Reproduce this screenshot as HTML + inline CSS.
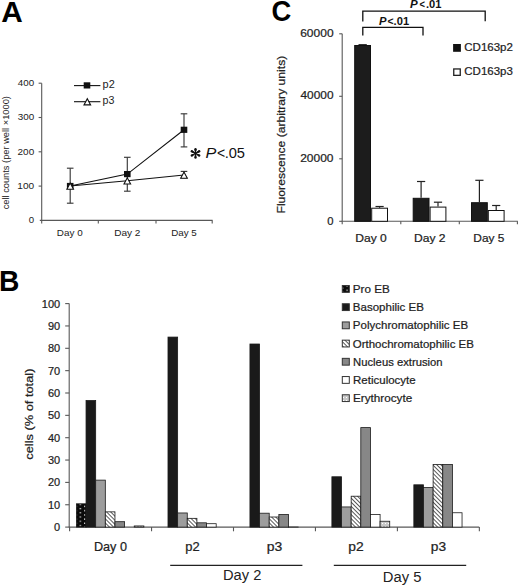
<!DOCTYPE html>
<html><head><meta charset="utf-8"><style>
html,body{margin:0;padding:0;background:#fff;width:520px;height:588px;overflow:hidden}
svg{display:block}
text{font-family:"Liberation Sans",sans-serif;font-kerning:none}
text.t{stroke:#222;stroke-width:0.22px}
</style></head><body>
<svg width="520" height="588" viewBox="0 0 520 588">
<rect width="520" height="588" fill="#fff"/>
<text x="1.26" y="22.00" font-size="29" font-weight="bold" textLength="21.53" lengthAdjust="spacingAndGlyphs" fill="#000">A</text>
<line x1="41.70" y1="83.20" x2="41.70" y2="220.40" stroke="#585858" stroke-width="1.1"/>
<line x1="38.60" y1="186.10" x2="41.70" y2="186.10" stroke="#585858" stroke-width="1.1"/>
<line x1="38.60" y1="151.80" x2="41.70" y2="151.80" stroke="#585858" stroke-width="1.1"/>
<line x1="38.60" y1="117.50" x2="41.70" y2="117.50" stroke="#585858" stroke-width="1.1"/>
<line x1="38.60" y1="83.20" x2="41.70" y2="83.20" stroke="#585858" stroke-width="1.1"/>
<line x1="39.80" y1="220.40" x2="212.60" y2="220.40" stroke="#585858" stroke-width="1.1"/>
<line x1="41.70" y1="220.40" x2="41.70" y2="223.60" stroke="#585858" stroke-width="1.1"/>
<line x1="98.30" y1="220.40" x2="98.30" y2="223.60" stroke="#585858" stroke-width="1.1"/>
<line x1="156.00" y1="220.40" x2="156.00" y2="223.60" stroke="#585858" stroke-width="1.1"/>
<line x1="212.20" y1="220.40" x2="212.20" y2="223.60" stroke="#585858" stroke-width="1.1"/>
<text x="17.88" y="86.10" font-size="9.3" textLength="16.31" lengthAdjust="spacingAndGlyphs" fill="#222">400</text>
<text x="17.72" y="120.40" font-size="9.3" textLength="16.46" lengthAdjust="spacingAndGlyphs" fill="#222">300</text>
<text x="17.60" y="154.70" font-size="9.3" textLength="16.59" lengthAdjust="spacingAndGlyphs" fill="#222">200</text>
<text x="17.33" y="189.00" font-size="9.3" textLength="16.86" lengthAdjust="spacingAndGlyphs" fill="#222">100</text>
<text x="28.82" y="223.30" font-size="9.3" textLength="5.35" lengthAdjust="spacingAndGlyphs" fill="#222">0</text>
<text x="56.89" y="236.30" font-size="9.2" textLength="25.80" lengthAdjust="spacingAndGlyphs" fill="#222">Day 0</text>
<text x="114.17" y="236.30" font-size="9.2" textLength="26.33" lengthAdjust="spacingAndGlyphs" fill="#222">Day 2</text>
<text x="171.20" y="236.30" font-size="9.2" textLength="25.62" lengthAdjust="spacingAndGlyphs" fill="#222">Day 5</text>
<text transform="translate(8.50,209.00) rotate(-90)" x="-0.39" y="0" font-size="9.0" textLength="113.27" lengthAdjust="spacingAndGlyphs" fill="#222">cell counts (per well ×1000)</text>
<line x1="70.20" y1="168.20" x2="70.20" y2="203.20" stroke="#3a3a3a" stroke-width="1.15"/>
<line x1="66.90" y1="168.20" x2="73.50" y2="168.20" stroke="#3a3a3a" stroke-width="1.15"/>
<line x1="66.90" y1="203.20" x2="73.50" y2="203.20" stroke="#3a3a3a" stroke-width="1.15"/>
<line x1="127.30" y1="157.30" x2="127.30" y2="191.20" stroke="#3a3a3a" stroke-width="1.15"/>
<line x1="124.00" y1="157.30" x2="130.60" y2="157.30" stroke="#3a3a3a" stroke-width="1.15"/>
<line x1="124.00" y1="191.20" x2="130.60" y2="191.20" stroke="#3a3a3a" stroke-width="1.15"/>
<line x1="184.00" y1="113.80" x2="184.00" y2="146.90" stroke="#3a3a3a" stroke-width="1.15"/>
<line x1="180.70" y1="113.80" x2="187.30" y2="113.80" stroke="#3a3a3a" stroke-width="1.15"/>
<line x1="180.70" y1="146.90" x2="187.30" y2="146.90" stroke="#3a3a3a" stroke-width="1.15"/>
<line x1="184.00" y1="171.40" x2="184.00" y2="177.90" stroke="#3a3a3a" stroke-width="1.15"/>
<line x1="180.70" y1="171.40" x2="187.30" y2="171.40" stroke="#3a3a3a" stroke-width="1.15"/>
<line x1="180.70" y1="177.90" x2="187.30" y2="177.90" stroke="#3a3a3a" stroke-width="1.15"/>
<polyline points="70.2,186.0 127.3,174.1 184.0,129.8" fill="none" stroke="#111" stroke-width="1.1"/>
<polyline points="70.2,186.0 127.3,180.7 184.0,175.0" fill="none" stroke="#111" stroke-width="1.1"/>
<rect x="66.90" y="182.90" width="6.60" height="6.20" fill="#111"/>
<rect x="124.00" y="171.00" width="6.60" height="6.20" fill="#111"/>
<rect x="180.70" y="126.70" width="6.60" height="6.20" fill="#111"/>
<polygon points="66.90,189.30 73.50,189.30 70.20,183.10" fill="#fff" stroke="#111" stroke-width="1.1"/>
<polygon points="124.00,184.00 130.60,184.00 127.30,177.80" fill="#fff" stroke="#111" stroke-width="1.1"/>
<polygon points="180.70,178.30 187.30,178.30 184.00,172.10" fill="#fff" stroke="#111" stroke-width="1.1"/>
<line x1="74.00" y1="85.60" x2="100.40" y2="85.60" stroke="#111" stroke-width="1.1"/>
<rect x="83.70" y="82.30" width="6.60" height="6.20" fill="#111"/>
<text x="102.60" y="87.90" font-size="10" textLength="12.15" lengthAdjust="spacingAndGlyphs" fill="#222">p2</text>
<line x1="74.00" y1="101.70" x2="100.40" y2="101.70" stroke="#111" stroke-width="1.1"/>
<polygon points="84.00,104.90 90.60,104.90 87.30,98.70" fill="#fff" stroke="#111" stroke-width="1.1"/>
<text x="102.61" y="103.80" font-size="10" textLength="11.86" lengthAdjust="spacingAndGlyphs" fill="#222">p3</text>
<line x1="195.50" y1="153.40" x2="195.50" y2="149.20" stroke="#111" stroke-width="1.4"/>
<circle cx="195.50" cy="149.20" r="1.2" fill="#111"/>
<circle cx="195.50" cy="150.50" r="0.95" fill="#111"/>
<line x1="195.50" y1="153.40" x2="191.86" y2="151.30" stroke="#111" stroke-width="1.4"/>
<circle cx="191.86" cy="151.30" r="1.2" fill="#111"/>
<circle cx="192.99" cy="151.95" r="0.95" fill="#111"/>
<line x1="195.50" y1="153.40" x2="191.86" y2="155.50" stroke="#111" stroke-width="1.4"/>
<circle cx="191.86" cy="155.50" r="1.2" fill="#111"/>
<circle cx="192.99" cy="154.85" r="0.95" fill="#111"/>
<line x1="195.50" y1="153.40" x2="195.50" y2="157.60" stroke="#111" stroke-width="1.4"/>
<circle cx="195.50" cy="157.60" r="1.2" fill="#111"/>
<circle cx="195.50" cy="156.30" r="0.95" fill="#111"/>
<line x1="195.50" y1="153.40" x2="199.14" y2="155.50" stroke="#111" stroke-width="1.4"/>
<circle cx="199.14" cy="155.50" r="1.2" fill="#111"/>
<circle cx="198.01" cy="154.85" r="0.95" fill="#111"/>
<line x1="195.50" y1="153.40" x2="199.14" y2="151.30" stroke="#111" stroke-width="1.4"/>
<circle cx="199.14" cy="151.30" r="1.2" fill="#111"/>
<circle cx="198.01" cy="151.95" r="0.95" fill="#111"/>
<text x="205.50" y="158.40" font-size="13.8" font-style="italic" textLength="10.80" lengthAdjust="spacingAndGlyphs" fill="#111">P</text>
<text x="216.91" y="158.40" font-size="13.8" textLength="8.17" lengthAdjust="spacingAndGlyphs" fill="#111">&lt;</text>
<text x="224.66" y="158.40" font-size="13.8" textLength="20.35" lengthAdjust="spacingAndGlyphs" fill="#111">.05</text>
<text x="271.48" y="21.20" font-size="29" font-weight="bold" textLength="19.77" lengthAdjust="spacingAndGlyphs" fill="#000">C</text>
<line x1="342.20" y1="33.80" x2="342.20" y2="221.30" stroke="#585858" stroke-width="1.1"/>
<line x1="339.20" y1="221.30" x2="342.20" y2="221.30" stroke="#585858" stroke-width="1.1"/>
<line x1="339.20" y1="158.80" x2="342.20" y2="158.80" stroke="#585858" stroke-width="1.1"/>
<line x1="339.20" y1="96.30" x2="342.20" y2="96.30" stroke="#585858" stroke-width="1.1"/>
<line x1="339.20" y1="33.80" x2="342.20" y2="33.80" stroke="#585858" stroke-width="1.1"/>
<line x1="341.70" y1="221.30" x2="517.80" y2="221.30" stroke="#585858" stroke-width="1.1"/>
<line x1="342.20" y1="221.30" x2="342.20" y2="224.30" stroke="#585858" stroke-width="1.1"/>
<line x1="400.80" y1="221.30" x2="400.80" y2="224.30" stroke="#585858" stroke-width="1.1"/>
<line x1="459.30" y1="221.30" x2="459.30" y2="224.30" stroke="#585858" stroke-width="1.1"/>
<line x1="517.40" y1="221.30" x2="517.40" y2="224.30" stroke="#585858" stroke-width="1.1"/>
<text x="300.19" y="36.80" font-size="11.2" textLength="33.38" lengthAdjust="spacingAndGlyphs" fill="#222" class="t">60000</text>
<text x="300.53" y="99.30" font-size="11.2" textLength="33.04" lengthAdjust="spacingAndGlyphs" fill="#222" class="t">40000</text>
<text x="300.20" y="161.80" font-size="11.2" textLength="33.37" lengthAdjust="spacingAndGlyphs" fill="#222" class="t">20000</text>
<text x="327.16" y="224.50" font-size="11.2" textLength="6.28" lengthAdjust="spacingAndGlyphs" fill="#222" class="t">0</text>
<text class="t" transform="translate(285.00,212.50) rotate(-90)" x="-1.00" y="0" font-size="11.0" textLength="157.75" lengthAdjust="spacingAndGlyphs" fill="#222">Fluorescence (arbitrary units)</text>
<text x="355.21" y="241.50" font-size="11.2" textLength="31.56" lengthAdjust="spacingAndGlyphs" fill="#222" class="t">Day 0</text>
<text x="414.01" y="241.50" font-size="11.2" textLength="31.60" lengthAdjust="spacingAndGlyphs" fill="#222" class="t">Day 2</text>
<text x="473.32" y="241.50" font-size="11.2" textLength="31.08" lengthAdjust="spacingAndGlyphs" fill="#222" class="t">Day 5</text>
<rect x="354.70" y="45.50" width="15.80" height="175.80" fill="#1c1c1c" stroke="#111" stroke-width="1.0"/>
<line x1="379.60" y1="206.50" x2="379.60" y2="207.70" stroke="#222" stroke-width="1.2"/>
<line x1="375.50" y1="206.50" x2="383.70" y2="206.50" stroke="#222" stroke-width="1.2"/>
<rect x="371.70" y="208.20" width="15.80" height="13.10" fill="#fff" stroke="#111" stroke-width="1.0"/>
<line x1="421.10" y1="181.50" x2="421.10" y2="197.80" stroke="#222" stroke-width="1.2"/>
<line x1="417.00" y1="181.50" x2="425.20" y2="181.50" stroke="#222" stroke-width="1.2"/>
<rect x="413.20" y="198.30" width="15.80" height="23.00" fill="#1c1c1c" stroke="#111" stroke-width="1.0"/>
<line x1="438.00" y1="202.20" x2="438.00" y2="206.60" stroke="#222" stroke-width="1.2"/>
<line x1="433.90" y1="202.20" x2="442.10" y2="202.20" stroke="#222" stroke-width="1.2"/>
<rect x="430.10" y="207.10" width="15.80" height="14.20" fill="#fff" stroke="#111" stroke-width="1.0"/>
<line x1="479.40" y1="180.30" x2="479.40" y2="202.20" stroke="#222" stroke-width="1.2"/>
<line x1="475.30" y1="180.30" x2="483.50" y2="180.30" stroke="#222" stroke-width="1.2"/>
<rect x="471.50" y="202.70" width="15.80" height="18.60" fill="#1c1c1c" stroke="#111" stroke-width="1.0"/>
<line x1="496.20" y1="205.50" x2="496.20" y2="210.00" stroke="#222" stroke-width="1.2"/>
<line x1="492.10" y1="205.50" x2="500.30" y2="205.50" stroke="#222" stroke-width="1.2"/>
<rect x="488.30" y="210.50" width="15.80" height="10.80" fill="#fff" stroke="#111" stroke-width="1.0"/>
<line x1="358.50" y1="44.70" x2="366.80" y2="44.70" stroke="#111" stroke-width="1.1"/>
<polyline points="362.8,21.4 362.8,11.1 485.2,11.1 485.2,21.3" fill="none" stroke="#111" stroke-width="1.3"/>
<polyline points="362.8,35.6 362.8,27.4 423.0,27.4 423.0,35.4" fill="none" stroke="#111" stroke-width="1.3"/>
<text x="379.00" y="24.60" font-size="11" font-weight="bold" font-style="italic" textLength="7.48" lengthAdjust="spacingAndGlyphs" fill="#111">P</text>
<text x="387.56" y="24.60" font-size="11" font-weight="bold" textLength="6.06" lengthAdjust="spacingAndGlyphs" fill="#111">&lt;</text>
<text x="393.64" y="24.60" font-size="11" font-weight="bold" textLength="15.46" lengthAdjust="spacingAndGlyphs" fill="#111">.01</text>
<text x="410.00" y="8.40" font-size="11" font-weight="bold" font-style="italic" textLength="7.69" lengthAdjust="spacingAndGlyphs" fill="#111">P</text>
<text x="419.51" y="8.40" font-size="11" font-weight="bold" textLength="5.47" lengthAdjust="spacingAndGlyphs" fill="#111">&lt;</text>
<text x="426.04" y="8.40" font-size="11" font-weight="bold" textLength="15.46" lengthAdjust="spacingAndGlyphs" fill="#111">.01</text>
<rect x="453.10" y="44.00" width="7.80" height="7.80" fill="#111"/>
<text x="464.32" y="51.30" font-size="11.2" textLength="48.56" lengthAdjust="spacingAndGlyphs" fill="#222" class="t">CD163p2</text>
<rect x="453.75" y="68.95" width="6.50" height="6.40" fill="#fff" stroke="#222" stroke-width="1.3"/>
<text x="464.32" y="75.00" font-size="11.2" textLength="48.49" lengthAdjust="spacingAndGlyphs" fill="#222" class="t">CD163p3</text>
<text x="-0.99" y="290.80" font-size="29" font-weight="bold" textLength="20.37" lengthAdjust="spacingAndGlyphs" fill="#000">B</text>
<line x1="69.20" y1="303.60" x2="69.20" y2="527.10" stroke="#585858" stroke-width="1.1"/>
<line x1="65.20" y1="527.10" x2="69.20" y2="527.10" stroke="#585858" stroke-width="1.1"/>
<text x="54.01" y="531.10" font-size="11" textLength="6.12" lengthAdjust="spacingAndGlyphs" fill="#222" class="t">0</text>
<line x1="65.20" y1="504.75" x2="69.20" y2="504.75" stroke="#585858" stroke-width="1.1"/>
<text x="47.89" y="508.75" font-size="11" textLength="12.24" lengthAdjust="spacingAndGlyphs" fill="#222" class="t">10</text>
<line x1="65.20" y1="482.40" x2="69.20" y2="482.40" stroke="#585858" stroke-width="1.1"/>
<text x="47.89" y="486.40" font-size="11" textLength="12.24" lengthAdjust="spacingAndGlyphs" fill="#222" class="t">20</text>
<line x1="65.20" y1="460.05" x2="69.20" y2="460.05" stroke="#585858" stroke-width="1.1"/>
<text x="47.89" y="464.05" font-size="11" textLength="12.24" lengthAdjust="spacingAndGlyphs" fill="#222" class="t">30</text>
<line x1="65.20" y1="437.70" x2="69.20" y2="437.70" stroke="#585858" stroke-width="1.1"/>
<text x="47.89" y="441.70" font-size="11" textLength="12.24" lengthAdjust="spacingAndGlyphs" fill="#222" class="t">40</text>
<line x1="65.20" y1="415.35" x2="69.20" y2="415.35" stroke="#585858" stroke-width="1.1"/>
<text x="47.89" y="419.35" font-size="11" textLength="12.24" lengthAdjust="spacingAndGlyphs" fill="#222" class="t">50</text>
<line x1="65.20" y1="393.00" x2="69.20" y2="393.00" stroke="#585858" stroke-width="1.1"/>
<text x="47.89" y="397.00" font-size="11" textLength="12.24" lengthAdjust="spacingAndGlyphs" fill="#222" class="t">60</text>
<line x1="65.20" y1="370.65" x2="69.20" y2="370.65" stroke="#585858" stroke-width="1.1"/>
<text x="47.89" y="374.65" font-size="11" textLength="12.24" lengthAdjust="spacingAndGlyphs" fill="#222" class="t">70</text>
<line x1="65.20" y1="348.30" x2="69.20" y2="348.30" stroke="#585858" stroke-width="1.1"/>
<text x="47.89" y="352.30" font-size="11" textLength="12.24" lengthAdjust="spacingAndGlyphs" fill="#222" class="t">80</text>
<line x1="65.20" y1="325.95" x2="69.20" y2="325.95" stroke="#585858" stroke-width="1.1"/>
<text x="47.89" y="329.95" font-size="11" textLength="12.24" lengthAdjust="spacingAndGlyphs" fill="#222" class="t">90</text>
<line x1="65.20" y1="303.60" x2="69.20" y2="303.60" stroke="#585858" stroke-width="1.1"/>
<text x="41.78" y="307.60" font-size="11" textLength="18.35" lengthAdjust="spacingAndGlyphs" fill="#222" class="t">100</text>
<line x1="68.70" y1="527.10" x2="479.20" y2="527.10" stroke="#585858" stroke-width="1.1"/>
<line x1="69.60" y1="527.10" x2="69.60" y2="531.30" stroke="#585858" stroke-width="1.1"/>
<line x1="151.55" y1="527.10" x2="151.55" y2="531.30" stroke="#585858" stroke-width="1.1"/>
<line x1="233.50" y1="527.10" x2="233.50" y2="531.30" stroke="#585858" stroke-width="1.1"/>
<line x1="315.45" y1="527.10" x2="315.45" y2="531.30" stroke="#585858" stroke-width="1.1"/>
<line x1="397.40" y1="527.10" x2="397.40" y2="531.30" stroke="#585858" stroke-width="1.1"/>
<line x1="479.35" y1="527.10" x2="479.35" y2="531.30" stroke="#585858" stroke-width="1.1"/>
<text class="t" transform="translate(32.80,459.20) rotate(-90)" x="-0.54" y="0" font-size="11" textLength="91.14" lengthAdjust="spacingAndGlyphs" fill="#222">cells (% of total)</text>
<defs>
<pattern id="pdot" width="8.6" height="4.2" patternUnits="userSpaceOnUse" x="0" y="-1"><rect width="8.6" height="4.2" fill="#0a0a0a"/><rect x="2.4" y="0.8" width="1.2" height="1.2" fill="#fff"/><rect x="6.7" y="2.9" width="1.2" height="1.2" fill="#fff"/></pattern>
<pattern id="phatch" width="2.9" height="3.4" patternUnits="userSpaceOnUse" patternTransform="rotate(-45)"><rect width="3.4" height="3.4" fill="#fff"/><rect x="0" y="0" width="0.9" height="3.4" fill="#4a4a4a"/></pattern>
<pattern id="pnuc" width="2" height="2" patternUnits="userSpaceOnUse"><rect width="2" height="2" fill="#838383"/><rect width="1" height="1" fill="#8a8a8a"/></pattern>
<pattern id="pery" width="3" height="3" patternUnits="userSpaceOnUse"><rect width="3" height="3" fill="#c8c8c8"/><rect x="1" y="1" width="1" height="1" fill="#fff"/></pattern>
</defs>
<rect x="76.40" y="503.81" width="9.64" height="23.29" fill="url(#pdot)" stroke="#1a1a1a" stroke-width="0.8"/>
<rect x="86.04" y="400.55" width="9.64" height="126.55" fill="#1a1a1a" stroke="#1a1a1a" stroke-width="0.8"/>
<rect x="95.68" y="480.12" width="9.64" height="46.98" fill="#9d9d9d" stroke="#1a1a1a" stroke-width="0.8"/>
<rect x="105.32" y="511.86" width="9.64" height="15.24" fill="url(#phatch)" stroke="#1a1a1a" stroke-width="0.8"/>
<rect x="114.96" y="521.69" width="9.64" height="5.41" fill="#878787" stroke="#1a1a1a" stroke-width="0.8"/>
<rect x="134.24" y="525.94" width="9.64" height="1.16" fill="url(#pery)" stroke="#1a1a1a" stroke-width="0.8"/>
<rect x="167.99" y="337.08" width="9.64" height="190.02" fill="#1a1a1a" stroke="#1a1a1a" stroke-width="0.8"/>
<rect x="177.63" y="512.97" width="9.64" height="14.13" fill="#9d9d9d" stroke="#1a1a1a" stroke-width="0.8"/>
<rect x="187.27" y="518.34" width="9.64" height="8.76" fill="url(#phatch)" stroke="#1a1a1a" stroke-width="0.8"/>
<rect x="196.91" y="522.81" width="9.64" height="4.29" fill="#878787" stroke="#1a1a1a" stroke-width="0.8"/>
<rect x="206.55" y="523.70" width="9.64" height="3.40" fill="#fff" stroke="#1a1a1a" stroke-width="0.8"/>
<rect x="249.94" y="344.01" width="9.64" height="183.09" fill="#1a1a1a" stroke="#1a1a1a" stroke-width="0.8"/>
<rect x="259.58" y="513.20" width="9.64" height="13.90" fill="#9d9d9d" stroke="#1a1a1a" stroke-width="0.8"/>
<rect x="269.22" y="517.00" width="9.64" height="10.10" fill="url(#phatch)" stroke="#1a1a1a" stroke-width="0.8"/>
<rect x="278.86" y="514.54" width="9.64" height="12.56" fill="#878787" stroke="#1a1a1a" stroke-width="0.8"/>
<rect x="288.50" y="527.05" width="9.64" height="0.05" fill="#fff" stroke="#1a1a1a" stroke-width="0.8"/>
<rect x="331.89" y="476.77" width="9.64" height="50.33" fill="#1a1a1a" stroke="#1a1a1a" stroke-width="0.8"/>
<rect x="341.53" y="506.94" width="9.64" height="20.16" fill="#9d9d9d" stroke="#1a1a1a" stroke-width="0.8"/>
<rect x="351.17" y="496.21" width="9.64" height="30.89" fill="url(#phatch)" stroke="#1a1a1a" stroke-width="0.8"/>
<rect x="360.81" y="427.60" width="9.64" height="99.50" fill="#878787" stroke="#1a1a1a" stroke-width="0.8"/>
<rect x="370.45" y="514.54" width="9.64" height="12.56" fill="#fff" stroke="#1a1a1a" stroke-width="0.8"/>
<rect x="380.09" y="521.24" width="9.64" height="5.86" fill="url(#pery)" stroke="#1a1a1a" stroke-width="0.8"/>
<rect x="413.84" y="484.81" width="9.64" height="42.29" fill="#1a1a1a" stroke="#1a1a1a" stroke-width="0.8"/>
<rect x="423.48" y="487.49" width="9.64" height="39.61" fill="#9d9d9d" stroke="#1a1a1a" stroke-width="0.8"/>
<rect x="433.12" y="464.47" width="9.64" height="62.63" fill="url(#phatch)" stroke="#1a1a1a" stroke-width="0.8"/>
<rect x="442.76" y="464.47" width="9.64" height="62.63" fill="#878787" stroke="#1a1a1a" stroke-width="0.8"/>
<rect x="452.40" y="512.75" width="9.64" height="14.35" fill="#fff" stroke="#1a1a1a" stroke-width="0.8"/>
<rect x="342.30" y="285.55" width="7.00" height="6.80" fill="url(#pdot)" stroke="#333" stroke-width="1.0"/>
<text x="352.84" y="292.90" font-size="11.3" textLength="36.97" lengthAdjust="spacingAndGlyphs" fill="#222" class="t">Pro EB</text>
<rect x="342.30" y="303.75" width="7.00" height="6.80" fill="#1a1a1a" stroke="#333" stroke-width="1.0"/>
<text x="352.86" y="311.10" font-size="11.3" textLength="71.05" lengthAdjust="spacingAndGlyphs" fill="#222" class="t">Basophilic EB</text>
<rect x="342.30" y="321.95" width="7.00" height="6.80" fill="#9d9d9d" stroke="#333" stroke-width="1.0"/>
<text x="352.85" y="329.30" font-size="11.3" textLength="115.25" lengthAdjust="spacingAndGlyphs" fill="#222" class="t">Polychromatophilic EB</text>
<rect x="342.30" y="340.15" width="7.00" height="6.80" fill="url(#phatch)" stroke="#333" stroke-width="1.0"/>
<text x="352.76" y="347.50" font-size="11.3" textLength="121.15" lengthAdjust="spacingAndGlyphs" fill="#222" class="t">Orthochromatophilic EB</text>
<rect x="342.30" y="358.35" width="7.00" height="6.80" fill="#878787" stroke="#333" stroke-width="1.0"/>
<text x="353.08" y="365.70" font-size="11.3" textLength="89.56" lengthAdjust="spacingAndGlyphs" fill="#222" class="t">Nucleus extrusion</text>
<rect x="342.30" y="376.55" width="7.00" height="6.80" fill="#fff" stroke="#333" stroke-width="1.0"/>
<text x="353.06" y="383.90" font-size="11.3" textLength="62.65" lengthAdjust="spacingAndGlyphs" fill="#222" class="t">Reticulocyte</text>
<rect x="342.30" y="394.75" width="7.00" height="6.80" fill="url(#pery)" stroke="#333" stroke-width="1.0"/>
<text x="353.04" y="402.10" font-size="11.3" textLength="59.18" lengthAdjust="spacingAndGlyphs" fill="#222" class="t">Erythrocyte</text>
<text x="93.96" y="550.80" font-size="12.2" textLength="33.03" lengthAdjust="spacingAndGlyphs" fill="#222" class="t">Day 0</text>
<text x="185.27" y="550.50" font-size="12.2" textLength="14.38" lengthAdjust="spacingAndGlyphs" fill="#222" class="t">p2</text>
<text x="266.80" y="550.50" font-size="12.2" textLength="15.51" lengthAdjust="spacingAndGlyphs" fill="#222" class="t">p3</text>
<text x="348.31" y="550.50" font-size="12.2" textLength="15.39" lengthAdjust="spacingAndGlyphs" fill="#222" class="t">p2</text>
<text x="430.81" y="550.50" font-size="12.2" textLength="15.29" lengthAdjust="spacingAndGlyphs" fill="#222" class="t">p3</text>
<line x1="170.20" y1="565.40" x2="302.40" y2="565.40" stroke="#222" stroke-width="1.3"/>
<line x1="333.80" y1="565.30" x2="466.20" y2="565.30" stroke="#222" stroke-width="1.3"/>
<text x="223.00" y="579.60" font-size="14" textLength="38.34" lengthAdjust="spacingAndGlyphs" fill="#222">Day 2</text>
<text x="382.89" y="581.80" font-size="14" textLength="38.53" lengthAdjust="spacingAndGlyphs" fill="#222">Day 5</text>
</svg>
</body></html>
